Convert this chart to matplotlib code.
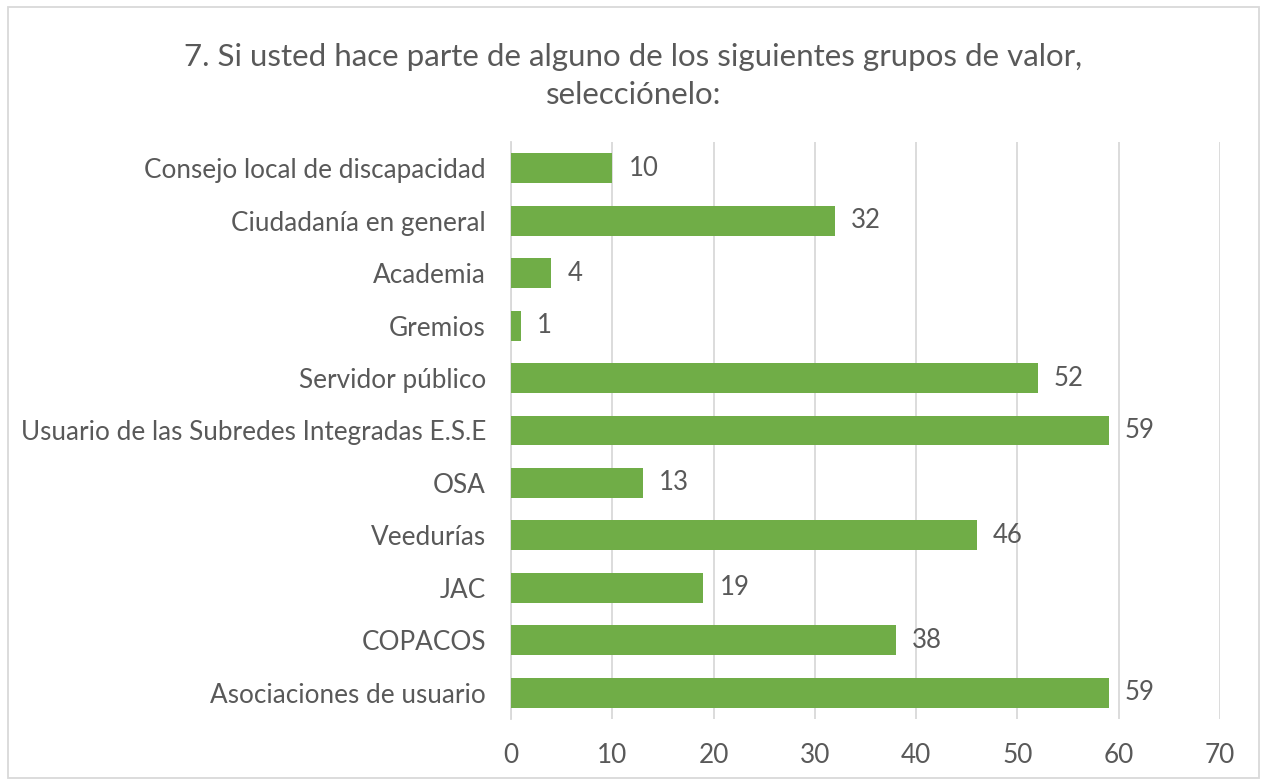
import matplotlib.pyplot as plt
from matplotlib.patches import Rectangle

categorias = ['Asociaciones de usuario', 'COPACOS', 'JAC', 'Veedurías', 'OSA',
              'Usuario de las Subredes Integradas E.S.E', 'Servidor público',
              'Gremios', 'Academia', 'Ciudadanía en general',
              'Consejo local de discapacidad']
valores = [59, 38, 19, 46, 13, 59, 52, 1, 4, 32, 10]
ticks_x = [0, 10, 20, 30, 40, 50, 60, 70]

plt.rcParams['font.family'] = ['Lato', 'DejaVu Sans']
gris = '#595959'

fig = plt.figure(figsize=(12.67, 7.83), dpi=100)
ax = fig.add_axes([0.4033, 0.0817, 0.5596, 0.737])

ax.barh(range(len(categorias)), valores, height=0.57, color='#70AD47', zorder=3)
for i, v in enumerate(valores):
    ax.text(v + 1.6, i, str(v), va='center', ha='left', fontsize=18.5, color=gris)

ax.set_xlim(0, 70)
ax.set_ylim(-0.5, len(categorias) - 0.5)
ax.set_xticks(ticks_x)
ax.set_yticks(range(len(categorias)))
ax.set_yticklabels(categorias)
ax.tick_params(axis='both', length=0, labelsize=18.8, colors=gris)
ax.tick_params(axis='y', pad=18)
ax.tick_params(axis='x', pad=17)
ax.grid(axis='x', color='#D9D9D9', linewidth=1.3, zorder=0)
for s in ['top', 'right', 'bottom']:
    ax.spines[s].set_visible(False)
ax.spines['left'].set_color('#D9D9D9')
ax.spines['left'].set_linewidth(1.3)

fig.text(0.5, 0.903, '7. Si usted hace parte de alguno de los siguientes grupos de valor,\nselecciónelo:',
         ha='center', va='center', fontsize=22.5, color=gris, linespacing=1.4)

fig.patches.append(Rectangle((0.006, 0.006), 0.988, 0.985, transform=fig.transFigure,
                             fill=False, edgecolor='#D9D9D9', linewidth=1.3))

plt.savefig('out.png', dpi=100)
